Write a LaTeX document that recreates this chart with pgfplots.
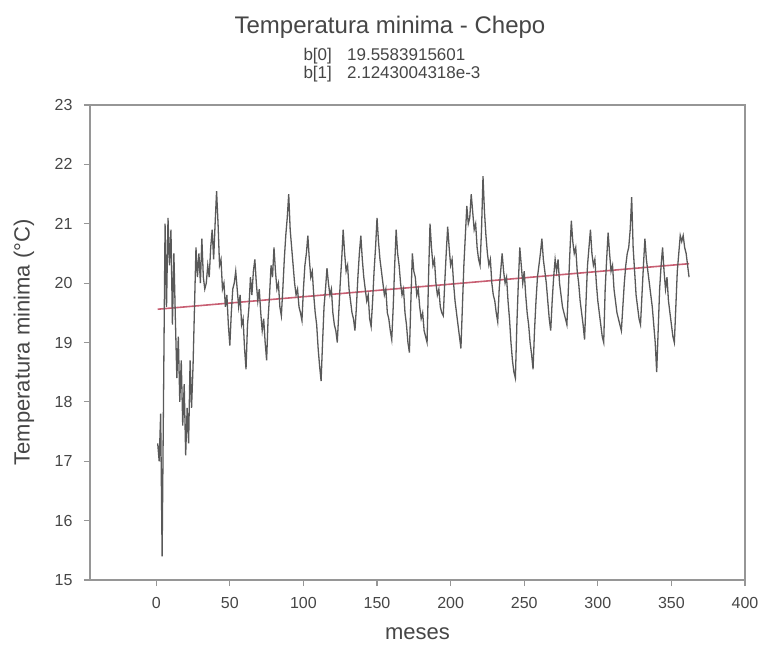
\documentclass[border=0pt]{standalone}
\usepackage{pgfplots}
\pgfplotsset{compat=1.18}
\usepackage{fontspec}
\setmainfont{Liberation Sans}
\definecolor{axisgray}{RGB}{150,150,150}
\definecolor{trendred}{RGB}{200,95,115}
\definecolor{txt}{RGB}{70,70,70}
\newcommand{\fs}[1]{\fontsize{#1}{#1}\selectfont}

\begin{document}
\begin{tikzpicture}
\path[use as bounding box] (-90bp,-76bp) rectangle (669bp,580bp);
\begin{axis}[
  at={(0,0)}, anchor=south west,
  scale only axis, width=655bp, height=475bp,
  xmin=-45, xmax=400, ymin=15, ymax=23,
  xtick={0,50,...,400}, ytick={15,16,...,23},
  xtick pos=bottom, ytick pos=left,
  tick align=outside, major tick length=6bp,
  axis line style={axisgray, line width=1.6bp},
  tick style={axisgray, line width=1.2bp},
  /pgf/number format/assume math mode=true,
  every tick label/.append style={font=\fs{16bp}, text=txt},
  xticklabel style={yshift=-8bp},
  yticklabel style={xshift=-8bp},
  xlabel={meses}, ylabel={Temperatura minima (°C)},
  label style={font=\fs{22bp}, text=txt},
  xlabel style={at={(axis description cs:0.5,-0.112)}, anchor=center},
  ylabel style={at={(axis description cs:-0.101,0.5)}, anchor=center},
]
% recta de regresion b[0] + b[1]*x
\addplot[trendred, line width=1.6bp] coordinates {(1,19.5605) (362,20.3274)};
% serie mensual
\addplot[black!65, line width=1.3bp] coordinates {
(1,17.3) (2,17.0) (3,17.8) (4,15.4) (5,18.2) (6,21.0) (7,19.6) (8,21.1) (9,20.3) (10,20.9) (11,19.3) (12,20.5)
(13,19.4) (14,18.4) (15,19.1) (16,18.0) (17,18.7) (18,17.6) (19,18.3) (20,17.1) (21,17.9) (22,17.3) (23,18.7) (24,17.9)
(25,18.6) (26,19.6) (27,20.6) (28,20.1) (29,20.5) (30,20.0) (31,20.75) (32,20.1) (33,19.9) (34,20.0) (35,20.3) (36,20.1)
(37,20.6) (38,20.9) (39,20.4) (40,21.0) (41,21.55) (42,21.0) (43,20.3) (44,20.4) (45,19.9) (46,20.0) (47,19.6) (48,19.8)
(49,19.3) (50,18.95) (51,19.5) (52,19.9) (53,20.0) (54,20.2) (55,19.9) (56,19.6) (57,19.8) (58,19.3) (59,19.4) (60,18.9)
(61,18.55) (62,19.3) (63,19.6) (64,20.1) (65,19.8) (66,20.2) (67,20.4) (68,20.0) (69,19.7) (70,19.9) (71,19.5) (72,19.2)
(73,19.4) (74,19.0) (75,18.7) (76,19.4) (77,19.8) (78,20.3) (79,20.1) (80,20.6) (81,20.2) (82,19.9) (83,20.0) (84,19.6)
(85,19.45) (86,19.9) (87,20.4) (88,20.8) (89,21.1) (90,21.5) (91,20.9) (92,20.6) (93,20.3) (94,20.0) (95,19.8) (96,19.9)
(97,19.6) (98,19.5) (99,19.37) (100,19.9) (101,20.3) (102,20.5) (103,20.8) (104,20.4) (105,20.1) (106,20.2) (107,19.8) (108,19.5)
(109,19.3) (110,18.9) (111,18.6) (112,18.35) (113,19.0) (114,19.6) (115,19.9) (116,20.25) (117,20.0) (118,19.8) (119,19.9) (120,19.5)
(121,19.3) (122,19.2) (123,19.0) (124,19.5) (125,20.0) (126,20.4) (127,20.9) (128,20.5) (129,20.2) (130,20.3) (131,19.9) (132,19.7)
(133,19.5) (134,19.4) (135,19.2) (136,19.6) (137,20.1) (138,20.5) (139,20.8) (140,20.4) (141,20.1) (142,19.9) (143,19.7) (144,19.8)
(145,19.4) (146,19.27) (147,19.7) (148,20.2) (149,20.6) (150,21.1) (151,20.7) (152,20.4) (153,20.2) (154,20.0) (155,19.8) (156,19.9)
(157,19.5) (158,19.4) (159,19.2) (160,19.05) (161,19.6) (162,20.3) (163,20.9) (164,20.5) (165,20.3) (166,20.0) (167,19.8) (168,19.9)
(169,19.5) (170,19.3) (171,19.0) (172,18.83) (173,19.7) (174,20.5) (175,20.2) (176,20.1) (177,19.8) (178,19.9) (179,19.6) (180,19.4)
(181,19.5) (182,19.2) (183,19.1) (184,19.0) (185,20.1) (186,21.0) (187,20.6) (188,20.3) (189,20.4) (190,20.0) (191,19.8) (192,19.9)
(193,19.6) (194,19.5) (195,19.45) (196,20.0) (197,20.5) (198,20.95) (199,20.6) (200,20.3) (201,20.4) (202,20.0) (203,19.7) (204,19.5)
(205,19.3) (206,19.1) (207,18.9) (208,19.6) (209,20.3) (210,20.8) (211,21.3) (212,21.0) (213,21.1) (214,21.5) (215,21.2) (216,20.9)
(217,21.0) (218,20.6) (219,20.4) (220,20.3) (221,20.9) (222,21.8) (223,21.2) (224,20.8) (225,20.5) (226,20.3) (227,20.4) (228,20.0)
(229,19.8) (230,19.7) (231,19.5) (232,19.35) (233,19.9) (234,20.2) (235,20.5) (236,20.2) (237,20.0) (238,20.1) (239,19.7) (240,19.4)
(241,19.0) (242,18.7) (243,18.5) (244,18.4) (245,19.3) (246,20.0) (247,20.6) (248,20.3) (249,20.0) (250,20.2) (251,19.8) (252,19.5)
(253,19.3) (254,19.0) (255,18.8) (256,18.55) (257,19.2) (258,19.7) (259,20.1) (260,20.3) (261,20.5) (262,20.75) (263,20.4) (264,20.2)
(265,20.0) (266,19.7) (267,19.4) (268,19.2) (269,19.7) (270,20.1) (271,20.4) (272,20.2) (273,20.4) (274,20.0) (275,19.8) (276,19.6)
(277,19.5) (278,19.4) (279,19.3) (280,19.9) (281,20.5) (282,21.05) (283,20.7) (284,20.5) (285,20.6) (286,20.2) (287,20.0) (288,19.7)
(289,19.5) (290,19.3) (291,19.05) (292,19.7) (293,20.3) (294,20.6) (295,20.9) (296,20.5) (297,20.3) (298,20.4) (299,20.0) (300,19.7)
(301,19.5) (302,19.3) (303,19.1) (304,19.0) (305,19.9) (306,20.4) (307,20.85) (308,20.5) (309,20.2) (310,20.3) (311,19.9) (312,19.7)
(313,19.5) (314,19.4) (315,19.3) (316,19.2) (317,19.6) (318,20.0) (319,20.3) (320,20.5) (321,20.6) (322,20.9) (323,21.45) (324,20.6)
(325,20.2) (326,19.8) (327,19.6) (328,19.4) (329,19.3) (330,19.8) (331,20.3) (332,20.75) (333,20.4) (334,20.2) (335,20.0) (336,19.8)
(337,19.6) (338,19.3) (339,19.0) (340,18.5) (341,19.2) (342,19.9) (343,20.3) (344,20.6) (345,20.2) (346,19.9) (347,20.1) (348,19.7)
(349,19.5) (350,19.3) (351,19.1) (352,19.0) (353,19.6) (354,20.2) (355,20.5) (356,20.8) (357,20.7) (358,20.8) (359,20.6) (360,20.5)
(361,20.3) (362,20.1)
};
\end{axis}
\node[font=\fs{24bp}, text=txt] at (300bp,553bp) {Temperatura minima - Chepo};
\node[font=\fs{17bp}, text=txt] at (302bp,514bp) {\begin{tabular}{@{}l@{\hspace{0.9em}}l@{}}b[0] & 19.5583915601\\ b[1] & 2.1243004318e-3\end{tabular}};
\end{tikzpicture}
\end{document}
